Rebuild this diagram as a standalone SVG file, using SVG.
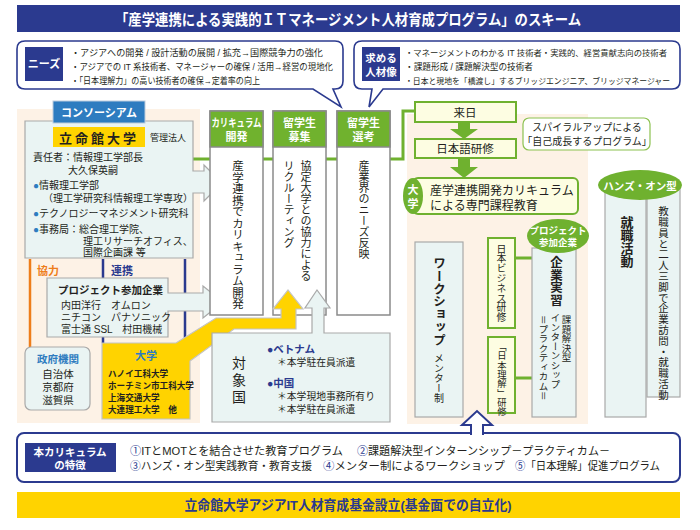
<svg xmlns="http://www.w3.org/2000/svg" width="700" height="530" viewBox="0 0 700 530">
<defs>
<style>
text{font-family:"Liberation Sans","Noto Sans CJK JP",sans-serif;fill:#231f20;}
.w{fill:#fff;font-weight:bold;}
.b{font-weight:bold;}
.nv{fill:#2b3a8f;}
.bl{fill:#2e7cc0;}
.v{writing-mode:vertical-rl;}
.pale{fill:#eaf4f3;stroke:#a9a9a9;stroke-width:1.2;}
.col{fill:#fff;stroke:#8a8a8a;stroke-width:1.5;}
.hdr{fill:#70b22e;stroke:#8a8a8a;stroke-width:1.5;}
.gbox{fill:#fdfde2;stroke:#6fb12f;stroke-width:2;}
.gline{stroke:#6fb12f;stroke-width:3;fill:none;}
.peach{fill:#fdf2e6;}
.garrow{fill:#6fb12f;}
</style>
</defs>
<rect width="700" height="530" fill="#fff"/>

<g id="title">
<rect x="17" y="5" width="663" height="27" fill="#2b3a8f"/>
<text x="348" y="25" text-anchor="middle" class="w" font-size="15" textLength="466" lengthAdjust="spacingAndGlyphs">「産学連携による実践的ＩＴマネージメント人材育成プログラム」のスキーム</text>
</g>

<g id="needs">
<path d="M25,41 H335 Q343,41 343,49 V81 Q343,89 335,89 H333 L341,107 L313,89 H25 Q17,89 17,81 V49 Q17,41 25,41 Z" fill="#fff" stroke="#2b3a8f" stroke-width="1.6"/>
<rect x="25" y="47" width="38" height="34" fill="#2b3a8f"/>
<text x="44" y="68" text-anchor="middle" class="w" font-size="11">ニーズ</text>
<text x="71" y="56" font-size="9" textLength="252" lengthAdjust="spacingAndGlyphs">・アジアへの開発 / 設計活動の展開 / 拡充→国際競争力の強化</text>
<text x="71" y="70" font-size="9" textLength="262" lengthAdjust="spacingAndGlyphs">・アジアでの IT 系技術者、マネージャーの確保 / 活用→経営の現地化</text>
<text x="71" y="84" font-size="9" textLength="189" lengthAdjust="spacingAndGlyphs">・「日本理解力」の高い技術者の確保→定着率の向上</text>
</g>

<g id="talent">
<path d="M362,41 H672 Q680,41 680,49 V81 Q680,89 672,89 H383 L369,107 L372,89 H362 Q354,89 354,81 V49 Q354,41 362,41 Z" fill="#fff" stroke="#2b3a8f" stroke-width="1.6"/>
<rect x="362" y="47" width="38" height="34" fill="#2b3a8f"/>
<text x="381" y="62" text-anchor="middle" class="w" font-size="10.5">求める</text>
<text x="381" y="76" text-anchor="middle" class="w" font-size="10.5">人材像</text>
<text x="405" y="56" font-size="8.4" textLength="262" lengthAdjust="spacingAndGlyphs">・マネージメントのわかる IT 技術者・実践的、経営貢献志向の技術者</text>
<text x="405" y="70" font-size="8.8" textLength="128" lengthAdjust="spacingAndGlyphs">・課題形成 / 課題解決型の技術者</text>
<text x="405" y="84" font-size="8.2" textLength="265" lengthAdjust="spacingAndGlyphs">・日本と現地を「橋渡し」するブリッジエンジニア、ブリッジマネージャー</text>
</g>

<g id="backgrounds">
<rect class="peach" x="17" y="109" width="183" height="314"/>
<rect class="peach" x="407" y="114" width="181" height="310"/>
</g>

<g id="connectors">
<polyline class="gline" points="193,159 403,159 403,111 415,111"/>
<line class="gline" x1="515" y1="258" x2="532" y2="258"/>
<line class="gline" x1="515" y1="378" x2="532" y2="378"/>
<line x1="30" y1="259" x2="30" y2="347" stroke="#ee7d1a" stroke-width="2.5"/>
<line x1="103" y1="259" x2="103" y2="343" stroke="#2b3a8f" stroke-width="2.5"/>
<line x1="185" y1="259" x2="185" y2="343" stroke="#2b3a8f" stroke-width="2.5"/>
<path class="garrow" d="M458,122 H470 V129 H478 L464,139 L450,129 H458 Z"/>
<path class="garrow" d="M458,158 H470 V167 H478 L464,178 L450,167 H458 Z"/>
</g>

<g id="consortium">
<path class="pale" d="M25,121 H193 V171 H204 V165 L222,183 L204,201 V193 H193 V258 H25 Z"/>
<rect x="53" y="101" width="92" height="22" fill="#2e7cc0" stroke="#bcd" stroke-width="1"/>
<text x="99" y="117" text-anchor="middle" class="w" font-size="11">コンソーシアム</text>
<rect x="53" y="127" width="92" height="20" fill="#ffd300"/>
<text x="99" y="143" text-anchor="middle" class="b" font-size="13" letter-spacing="3">立命館大学</text>
<text x="150" y="141" font-size="9">管理法人</text>
<text x="33" y="161" font-size="10">責任者：情報理工学部長</text>
<text x="68" y="174" font-size="10">大久保英嗣</text>
<text x="33" y="189" font-size="10"><tspan class="bl">●</tspan>情報理工学部</text>
<text x="43" y="202" font-size="10">（理工学研究科情報理工学専攻）</text>
<text x="33" y="217" font-size="10"><tspan class="bl">●</tspan>テクノロジーマネジメント研究科</text>
<text x="33" y="233" font-size="10"><tspan class="bl">●</tspan>事務局：総合理工学院、</text>
<text x="83" y="245" font-size="10">理工リサーチオフィス、</text>
<text x="83" y="256" font-size="10">国際企画課 等</text>
</g>

<g id="labels">
<text x="37" y="275" font-size="11" class="b" style="fill:#ee7d1a">協力</text>
<text x="111" y="275" font-size="11" class="b nv">連携</text>
</g>

<g id="companies">
<path class="pale" d="M47,278 H168 V293 H203 V286 L223,302 L203,318 V311 H168 V337 H47 Z"/>
<text x="58" y="294" font-size="10.5" class="b">プロジェクト参加企業</text>
<text x="61" y="309" font-size="10">内田洋行　オムロン</text>
<text x="61" y="321" font-size="10">ニチコン　パナソニック</text>
<text x="61" y="333" font-size="10">富士通 SSL　村田機械</text>
</g>

<g id="government">
<rect class="pale" x="25" y="347" width="65" height="63" rx="6"/>
<text x="58" y="363" text-anchor="middle" font-size="10.5" class="b bl">政府機関</text>
<text x="58" y="378" text-anchor="middle" font-size="10.5">自治体</text>
<text x="58" y="391" text-anchor="middle" font-size="10.5">京都府</text>
<text x="58" y="404" text-anchor="middle" font-size="10.5">滋賀県</text>
</g>

<g id="col-curriculum">
<rect class="col" x="210" y="111" width="53" height="204"/>
<rect class="hdr" x="210" y="111" width="53" height="36"/>
<text x="236.5" y="127" text-anchor="middle" class="w" font-size="11" textLength="50" lengthAdjust="spacingAndGlyphs">カリキュラム</text>
<text x="236.5" y="141" text-anchor="middle" class="w" font-size="11">開発</text>
<text class="v" x="237" y="160" font-size="11.5">産学連携でカリキュラム開発</text>
</g>

<g id="col-recruit">
<rect class="col" x="273" y="111" width="53" height="204"/>
<rect class="hdr" x="273" y="111" width="53" height="36"/>
<text x="299.5" y="127" text-anchor="middle" class="w" font-size="11">留学生</text>
<text x="299.5" y="141" text-anchor="middle" class="w" font-size="11">募集</text>
<text class="v" x="305" y="160" font-size="11">協定大学との協力による</text>
<text class="v" x="288" y="160" font-size="11">リクルーティング</text>
</g>

<g id="col-select">
<rect class="col" x="337" y="111" width="53" height="204"/>
<rect class="hdr" x="337" y="111" width="53" height="36"/>
<text x="363.5" y="127" text-anchor="middle" class="w" font-size="11">留学生</text>
<text x="363.5" y="141" text-anchor="middle" class="w" font-size="11">選考</text>
<text class="v" x="363" y="160" font-size="11">産業界のニーズ反映</text>
</g>

<g id="universities">
<path d="M102,343 H176 L216,318 H281 V309 H273 L288,290 L303,309 H296 V329 H234 L190,361 V419 H102 Z" fill="#ffd300" stroke="#c4c4c4" stroke-width="1.2"/>
<text x="146" y="360" text-anchor="middle" font-size="11" class="b bl">大学</text>
<text x="108" y="377" font-size="8.6" class="b">ハノイ工科大学</text>
<text x="108" y="389" font-size="8.6" class="b">ホーチミン市工科大学</text>
<text x="108" y="401" font-size="8.6" class="b">上海交通大学</text>
<text x="108" y="413" font-size="8.6" class="b">大連理工大学　他</text>
</g>

<g id="countries">
<path class="pale" d="M212,333 H312 V308 H305 L317,290 L330,308 H324 V333 H390 V422 H212 Z"/>
<text x="239" y="368" text-anchor="middle" font-size="14">対</text>
<text x="239" y="385" text-anchor="middle" font-size="14">象</text>
<text x="239" y="402" text-anchor="middle" font-size="14">国</text>
<text x="267" y="353" font-size="10.5" class="b nv">●ベトナム</text>
<text x="277" y="366" font-size="9.8">＊本学駐在員派遣</text>
<text x="267" y="387" font-size="10.5" class="b nv">●中国</text>
<text x="277" y="400" font-size="9.8">＊本学現地事務所有り</text>
<text x="277" y="413" font-size="9.8">＊本学駐在員派遣</text>
</g>

<g id="arrival">
<rect class="gbox" x="415" y="102" width="101" height="20"/>
<text x="465" y="117" text-anchor="middle" font-size="11.5">来日</text>
</g>
<g id="japanese">
<rect class="gbox" x="415" y="139" width="101" height="19"/>
<text x="465" y="153" text-anchor="middle" font-size="11.5">日本語研修</text>
</g>
<g id="specialist">
<rect class="gbox" x="413" y="178" width="165" height="36" rx="5"/>
<ellipse cx="413" cy="196" rx="10" ry="18" fill="#6fb12f"/>
<text x="413" y="194" text-anchor="middle" class="w" font-size="11">大</text>
<text x="413" y="208" text-anchor="middle" class="w" font-size="11">学</text>
<text x="430" y="195" font-size="12">産学連携開発カリキュラム</text>
<text x="430" y="210" font-size="12">による専門課程教育</text>
</g>

<g id="spiral">
<rect x="523" y="118" width="127" height="32" rx="6" fill="#fff" stroke="#8cc150" stroke-width="1.2"/>
<text x="587" y="131" text-anchor="middle" font-size="10">スパイラルアップによる</text>
<text x="587" y="145" text-anchor="middle" font-size="10">「自己成長するプログラム」</text>
</g>

<g id="workshop">
<rect class="pale" x="415" y="242" width="48" height="175"/>
<text class="v b" x="438" y="257" font-size="12.5" letter-spacing="0.3">ワークショップ</text>
<text class="v" x="438" y="353" font-size="10">メンター制</text>
</g>

<g id="business-training">
<rect class="gbox" x="488" y="238" width="27" height="90"/>
<text class="v" x="501" y="244" font-size="9.8">日本ビジネス研修</text>
</g>
<g id="understanding-training">
<rect class="gbox" x="488" y="337" width="27" height="76"/>
<text class="v" x="501" y="342" font-size="9.3">「日本理解」研修</text>
</g>

<g id="internship">
<rect class="pale" x="532" y="248" width="44" height="169"/>
<ellipse cx="558" cy="236" rx="31" ry="17" fill="#6fb12f"/>
<text x="558" y="234" text-anchor="middle" class="w" font-size="9.5">プロジェクト</text>
<text x="558" y="246" text-anchor="middle" class="w" font-size="9.5">参加企業</text>
<text class="v b" x="555" y="256" font-size="12.5">企業実習</text>
<text class="v" x="566" y="315" font-size="9.5">課題解決型</text>
<text class="v" x="555" y="313" font-size="9.5">インターンシップ</text>
<text class="v" x="543" y="315" font-size="9.5">＝プラクティカム＝</text>
</g>

<g id="hands-on">
<rect class="pale" x="605" y="185" width="41" height="232"/>
<rect class="pale" x="647" y="185" width="33" height="212"/>
<ellipse cx="640" cy="185" rx="42" ry="15" fill="#6fb12f"/>
<text x="640" y="190" text-anchor="middle" class="w" font-size="10.5">ハンズ・オン型</text>
<text class="v b" x="626" y="216" font-size="13">就職活動</text>
<text class="v" x="663" y="206" font-size="10.5" letter-spacing="0.3">教職員と二人三脚で企業訪問・就職活動</text>
</g>

<g id="features">
<rect x="17" y="433" width="663" height="49" rx="7" fill="#fff" stroke="#2b3a8f" stroke-width="2"/>
<path d="M471,435 V425 H462 L477,411 L492,425 H483 V435" fill="#fff" stroke="#2b3a8f" stroke-width="2"/>
<rect x="25" y="443" width="91" height="29" fill="#2b3a8f"/>
<text x="70" y="456" text-anchor="middle" class="w" font-size="10.5">本カリキュラム</text>
<text x="70" y="469" text-anchor="middle" class="w" font-size="10.5">の特徴</text>
<text x="130" y="455" font-size="11.5" textLength="213" lengthAdjust="spacingAndGlyphs"><tspan class="nv">①</tspan>ITとMOTとを結合させた教育プログラム</text>
<text x="357" y="455" font-size="11.5" textLength="253" lengthAdjust="spacingAndGlyphs"><tspan class="nv">②</tspan>課題解決型インターンシップ－プラクティカム－</text>
<text x="130" y="470" font-size="11" textLength="182" lengthAdjust="spacingAndGlyphs"><tspan class="nv">③</tspan>ハンズ・オン型実践教育・教育支援</text>
<text x="323" y="470" font-size="11" textLength="182" lengthAdjust="spacingAndGlyphs"><tspan class="nv">④</tspan>メンター制によるワークショップ</text>
<text x="515" y="470" font-size="11.5" textLength="145" lengthAdjust="spacingAndGlyphs"><tspan class="nv">⑤</tspan>「日本理解」促進プログラム</text>
</g>

<g id="fund">
<rect x="17" y="492" width="663" height="26" fill="#ffd300"/>
<text x="348" y="510" text-anchor="middle" class="b nv" font-size="13.5" textLength="327" lengthAdjust="spacingAndGlyphs">立命館大学アジアIT人材育成基金設立(基金面での自立化)</text>
</g>
</svg>
